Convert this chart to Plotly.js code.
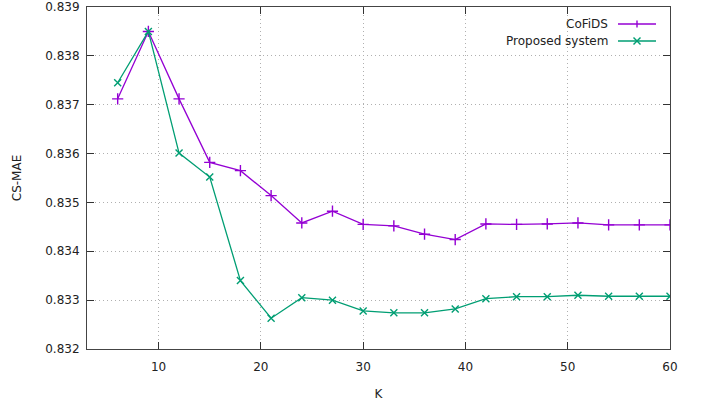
<!DOCTYPE html>
<html>
<head>
<meta charset="utf-8">
<script src="https://cdn.plot.ly/plotly-3.0.1.min.js"></script>
<style>
  html, body { margin: 0; padding: 0; background: #fff; }
  #chart { width: 705px; height: 405px; }
</style>
</head>
<body>
<div id="chart"></div>
<script>
// Neighbourhood size K
const K = [6, 9, 12, 15, 18, 21, 24, 27, 30, 33, 36, 39, 42, 45, 48, 51, 54, 57, 60];

// CS-MAE for each method
const cofids = [0.83712, 0.83850, 0.83712, 0.83582, 0.83565, 0.83514, 0.83458, 0.83482,
                0.83455, 0.83452, 0.83435, 0.83424, 0.83456, 0.83455, 0.83456, 0.83458,
                0.83454, 0.83454, 0.83454];
const proposed = [0.83745, 0.83850, 0.83601, 0.83552, 0.83340, 0.83263, 0.83305, 0.83300,
                  0.83278, 0.83274, 0.83274, 0.83282, 0.83303, 0.83307, 0.83307, 0.83310,
                  0.83308, 0.83308, 0.83308];

const seriesNames = ['CoFiDS', 'Proposed system'];
const xTicks = [10, 20, 30, 40, 50, 60];
const yTicks = [0.832, 0.833, 0.834, 0.835, 0.836, 0.837, 0.838, 0.839];

const PURPLE = '#9400d3';
const GREEN = '#009e73';
const FONT = 'DejaVu Sans, sans-serif';

// plot-area geometry (pixels)
const W = 705, H = 405;
const M = { l: 87, r: 35, t: 7, b: 56 };
const pw = W - M.l - M.r, ph = H - M.t - M.b;
const px = x => (x - M.l) / pw;
const py = y => (H - M.b - y) / ph;

const traces = [
  {
    x: K, y: cofids, name: seriesNames[0], type: 'scatter', mode: 'lines+markers',
    line: { color: PURPLE, width: 1.3 },
    marker: { symbol: 'cross-thin', size: 8, color: PURPLE, line: { color: PURPLE, width: 1.4 } },
    showlegend: false
  },
  {
    x: K, y: proposed, name: seriesNames[1], type: 'scatter', mode: 'lines+markers',
    line: { color: GREEN, width: 1.3 },
    marker: { symbol: 'x-thin', size: 7, color: GREEN, line: { color: GREEN, width: 1.4 } },
    showlegend: false
  }
];

// key in the top-right corner: right-aligned label followed by a line sample
const keyRows = [
  { name: seriesNames[0], color: PURPLE, sym: 'plus', y: 24 },
  { name: seriesNames[1], color: GREEN, sym: 'cross', y: 41 }
];
const annotations = [];
const shapes = [];
const sx0 = 618, sx1 = 656, sxc = 637, r = 3.5;
keyRows.forEach(row => {
  annotations.push({
    xref: 'paper', yref: 'paper', x: px(610), y: py(row.y),
    xanchor: 'right', yanchor: 'middle', showarrow: false,
    text: row.name, font: { family: FONT, size: 12, color: '#222' }
  });
  const ln = { color: row.color, width: 1.3 };
  shapes.push({ type: 'line', xref: 'paper', yref: 'paper',
    x0: px(sx0), x1: px(sx1), y0: py(row.y), y1: py(row.y), line: ln });
  const ml = { color: row.color, width: 1.4 };
  if (row.sym === 'plus') {
    shapes.push({ type: 'line', xref: 'paper', yref: 'paper',
      x0: px(sxc), x1: px(sxc), y0: py(row.y - r), y1: py(row.y + r), line: ml });
  } else {
    shapes.push({ type: 'line', xref: 'paper', yref: 'paper',
      x0: px(sxc - r), x1: px(sxc + r), y0: py(row.y - r), y1: py(row.y + r), line: ml });
    shapes.push({ type: 'line', xref: 'paper', yref: 'paper',
      x0: px(sxc - r), x1: px(sxc + r), y0: py(row.y + r), y1: py(row.y - r), line: ml });
  }
});

const axisCommon = {
  showline: true, linecolor: '#444', linewidth: 1, mirror: 'ticks',
  ticks: 'inside', ticklen: 7, tickcolor: '#333', tickwidth: 1,
  showgrid: true, gridcolor: '#b0b0b0', griddash: '1px,3px', gridwidth: 1,
  zeroline: false, tickfont: { family: FONT, size: 12, color: '#222' }
};

const layout = {
  width: W, height: H,
  margin: M,
  paper_bgcolor: '#fff', plot_bgcolor: '#fff',
  showlegend: false,
  xaxis: Object.assign({}, axisCommon, {
    range: [3, 60], tickvals: xTicks, ticktext: xTicks.map(String),
    ticklabelstandoff: 7,
    title: { text: 'K', font: { family: FONT, size: 12, color: '#222' }, standoff: 16 }
  }),
  yaxis: Object.assign({}, axisCommon, {
    range: [0.832, 0.839], tickvals: yTicks, ticktext: yTicks.map(v => v.toFixed(3)),
    ticklabelstandoff: 4,
    title: { text: 'CS-MAE', font: { family: FONT, size: 12, color: '#222' }, standoff: 21 }
  }),
  annotations: annotations,
  shapes: shapes
};

Plotly.newPlot('chart', traces, layout, { displayModeBar: false, staticPlot: true });
</script>
</body>
</html>
